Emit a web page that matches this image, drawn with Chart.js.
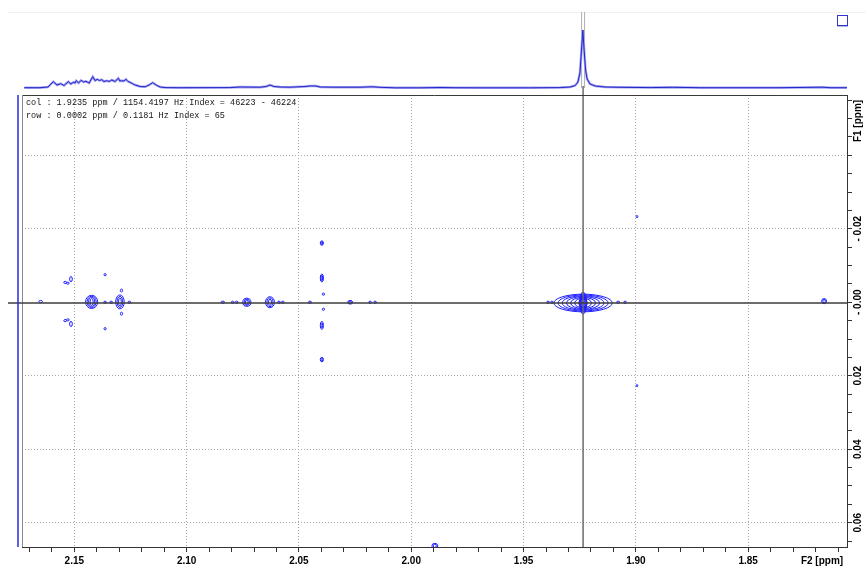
<!DOCTYPE html>
<html><head><meta charset="utf-8">
<script src="https://cdn.jsdelivr.net/npm/chart.js@4.4.0/dist/chart.umd.min.js"></script>
<style>
html,body{margin:0;padding:0;background:#fff;}
#wrap{position:relative;width:866px;height:568px;}
#wrap canvas{position:absolute;left:0;top:0;}
</style></head><body>
<div id="wrap">
<canvas id="main" width="866" height="568" style="width:866px;height:568px"></canvas>
<canvas id="proj" width="866" height="95" style="width:866px;height:95px"></canvas>
</div>
<script>
// ---------- axis ranges and ticks ----------
const xMin = 1.806, xMax = 2.1733;          // F2 [ppm], reversed
const yMin = -0.0564, yMax = 0.0666;        // F1 [ppm], reversed
const xMajorTicks = [2.15, 2.10, 2.05, 2.00, 1.95, 1.90, 1.85];
const xMajorLabels = ['2.15', '2.10', '2.05', '2.00', '1.95', '1.90', '1.85'];
const xMinorStep = 0.01;
const yLabelTicks = [-0.02, 0.00, 0.02, 0.04, 0.06];
const yLabelTexts = ['- 0.02', '- 0.00', '0.02', '0.04', '0.06'];
const yGridTicks = [-0.04, -0.02, 0.02, 0.04, 0.06];
const yMinorStep = 0.005;
const xAxisTitle = 'F2 [ppm]';
const yAxisTitle = 'F1 [ppm]';

// ---------- cursor ----------
const cursorF2 = 1.9235, cursorF1 = 0.0002;
const infoLines = [
  'col : 1.9235 ppm / 1154.4197 Hz Index = 46223 - 46224',
  'row : 0.0002 ppm / 0.1181 Hz Index = 65'
];

// ---------- 2D contour peaks ----------
const peakF2 = [2.1650, 2.1541, 2.1529, 2.1515, 2.1541, 2.1529, 2.1515, 2.1423, 2.1363, 2.1363,
  2.1363, 2.1336, 2.1297, 2.1290, 2.1290, 2.1255, 2.0839, 2.0795, 2.0777, 2.0732,
  2.0629, 2.0589, 2.0572, 2.0451, 2.0398, 2.0398, 2.0391, 2.0391, 2.0398, 2.0398,
  2.0272, 2.0183, 2.0161, 1.9235, 1.9235, 1.9391, 1.9374, 1.9079, 1.9048, 1.8995,
  1.8995, 1.8162, 1.9895];
const peakF1 = [-0.0002, -0.0054, -0.0052, -0.0063, 0.0050, 0.0048, 0.0059, -0.0001, -0.0075, 0.0072,
  0.0000, 0.0000, -0.0001, -0.0032, 0.0031, 0.0000, 0.0000, 0.0000, 0.0000, 0.0000,
  0.0000, 0.0000, 0.0000, 0.0000, -0.0161, -0.0066, -0.0022, 0.0019, 0.0063, 0.0156,
  0.0000, 0.0000, 0.0000, 0.0002, 0.0002, 0.0000, 0.0000, 0.0000, 0.0000, -0.0233,
  0.0227, -0.0003, 0.0663];
const peakHalfW = [0.0008, 0.0006, 0.0006, 0.0006, 0.0006, 0.0006, 0.0006, 0.0027, 0.0005, 0.0005,
  0.0006, 0.0006, 0.0019, 0.0005, 0.0005, 0.0006, 0.0008, 0.0006, 0.0006, 0.0018,
  0.0020, 0.0006, 0.0006, 0.0007, 0.0007, 0.0007, 0.0005, 0.0005, 0.0007, 0.0007,
  0.0011, 0.0006, 0.0006, 0.0130, 0.0016, 0.0006, 0.0006, 0.0007, 0.0006, 0.0004,
  0.0004, 0.0011, 0.0013];
const peakHalfH = [0.0003, 0.0003, 0.0003, 0.0007, 0.0003, 0.0003, 0.0007, 0.0018, 0.0003, 0.0003,
  0.0003, 0.0003, 0.0019, 0.0004, 0.0004, 0.0003, 0.0003, 0.0003, 0.0003, 0.0011,
  0.0015, 0.0003, 0.0003, 0.0003, 0.0006, 0.0011, 0.0003, 0.0003, 0.0011, 0.0006,
  0.0005, 0.0003, 0.0003, 0.0024, 0.0030, 0.0003, 0.0003, 0.0003, 0.0003, 0.0003,
  0.0003, 0.0007, 0.0007];
const peakLevels = [1, 1, 1, 1, 1, 1, 1, 4, 1, 1,
  1, 1, 3, 1, 1, 1, 1, 1, 1, 3,
  3, 1, 1, 1, 2, 2, 1, 1, 2, 2,
  2, 1, 1, 7, 4, 1, 1, 1, 1, 1,
  1, 2, 2];

// ---------- F2 projection (top trace) ----------
const projF2 = [2.1723, 2.1653, 2.1617, 2.1594, 2.1577, 2.1561, 2.1546, 2.1527, 2.1515, 2.1504,
  2.1497, 2.1492, 2.1481, 2.1470, 2.1459, 2.1448, 2.1434, 2.1418, 2.1408, 2.1398,
  2.1388, 2.1378, 2.1368, 2.1356, 2.1345, 2.1333, 2.1319, 2.1304, 2.1297, 2.1289,
  2.1279, 2.1270, 2.1261, 2.1252, 2.1238, 2.1229, 2.1207, 2.1185, 2.1167, 2.1151,
  2.1136, 2.1118, 2.1096, 2.1029, 2.0806, 2.0762, 2.0673, 2.0646, 2.0629, 2.0611,
  2.0584, 2.0539, 2.0473, 2.0451, 2.0424, 2.0406, 2.0340, 2.0228, 2.0175, 2.0139,
  2.0072, 1.9961, 1.9872, 1.9805, 1.9693, 1.9470, 1.9337, 1.9292, 1.9270, 1.9258,
  1.9249, 1.9242, 1.9236, 1.9231, 1.9224, 1.9217, 1.9204, 1.9181, 1.9137, 1.9070,
  1.8936, 1.8838, 1.8714, 1.8358, 1.8167, 1.8136, 1.8060];
const projInt = [0.3, 0.3, 1, 6.3, 3, 4.3, 2.5, 6.3, 4, 5.7,
  5, 7.3, 5, 7.7, 6, 6.7, 5, 11.3, 7.5, 8.7,
  7.5, 8.3, 6.5, 7.3, 6.5, 8, 6.5, 9.7, 7, 7.3,
  7, 8.7, 6.5, 5.7, 4, 3, 1.5, 1.2, 3, 5.3,
  3, 1, 0.4, 0.3, 0.4, 1, 0.8, 1.5, 3, 1.5,
  1, 0.8, 1.5, 2, 2, 1, 0.8, 0.8, 1.2, 0.7,
  0.2, 0.2, 0.5, 0.3, 0.2, 0.2, 0.4, 1, 2.5, 6,
  15, 38, 58, 40, 18, 9, 4, 2, 1, 0.7,
  0.4, 0.7, 0.3, 0.3, 0.8, 0.3, 0.3];

// ---------- helpers ----------
const near = (a, b) => Math.abs(a - b) < 1e-6;
const xAllTicks = [];
for (let k = Math.ceil(xMin / xMinorStep - 1e-6); k * xMinorStep <= xMax + 1e-9; k++) xAllTicks.push(+(k * xMinorStep).toFixed(4));
const yAllTicks = [];
for (let k = Math.ceil(yMin / yMinorStep - 1e-6); k * yMinorStep <= yMax + 1e-9; k++) yAllTicks.push(+(k * yMinorStep).toFixed(4));
const tickFont = {family: 'Liberation Sans, Arial, sans-serif', size: 10, weight: 'bold'};
const fontStr = 'bold 10px "Liberation Sans", Arial, sans-serif';

const mainPlugin = {
  id: 'nmr2d',
  beforeDatasetsDraw(chart) {
    const {ctx, chartArea: a, scales: {x, y}} = chart;
    ctx.save();
    ctx.beginPath();
    ctx.rect(a.left, a.top, a.right - a.left, a.bottom - a.top);
    ctx.clip();
    // contours
    ctx.strokeStyle = '#1c1cff';
    ctx.lineWidth = 1;
    for (let i = 0; i < peakF2.length; i++) {
      const cx = x.getPixelForValue(peakF2[i]);
      const cy = y.getPixelForValue(peakF1[i]);
      const rx = Math.abs(x.getPixelForValue(peakF2[i] + peakHalfW[i]) - cx);
      const ry = Math.abs(y.getPixelForValue(peakF1[i] + peakHalfH[i]) - cy);
      const n = peakLevels[i];
      for (let k = n; k >= 1; k--) {
        const f = k / n;
        const fy = n > 1 ? 0.35 + 0.65 * f : 1;
        ctx.beginPath();
        ctx.ellipse(cx, cy, Math.max(rx * f, 0.7), Math.max(ry * fy, 0.7), 0, 0, Math.PI * 2);
        ctx.stroke();
      }
    }
    // vertical cursor
    const px = x.getPixelForValue(cursorF2);
    ctx.strokeStyle = '#6a6a6a';
    ctx.lineWidth = 1.5;
    ctx.beginPath();
    ctx.moveTo(px, a.top);
    ctx.lineTo(px, a.bottom);
    ctx.stroke();
    ctx.restore();
  },
  afterDraw(chart) {
    const {ctx, chartArea: a, scales: {x, y}} = chart;
    ctx.save();
    // frame top / left
    ctx.strokeStyle = '#3a3a3a';
    ctx.lineWidth = 1;
    ctx.beginPath();
    ctx.moveTo(a.left, a.top + 0.5);
    ctx.lineTo(a.right, a.top + 0.5);
    ctx.stroke();
    ctx.strokeStyle = '#8a8a8a';
    ctx.beginPath();
    ctx.moveTo(a.left + 0.5, a.top);
    ctx.lineTo(a.left + 0.5, a.bottom);
    ctx.stroke();
    // horizontal cursor (extends left past the frame)
    const py = y.getPixelForValue(cursorF1);
    ctx.strokeStyle = '#3c3c3c';
    ctx.lineWidth = 1.5;
    ctx.beginPath();
    ctx.moveTo(8, py);
    ctx.lineTo(a.right, py);
    ctx.stroke();
    // F1 projection (flat trace at left)
    ctx.strokeStyle = '#2a2ae0';
    ctx.lineWidth = 1.5;
    ctx.beginPath();
    ctx.moveTo(18, a.top);
    ctx.lineTo(18, a.bottom);
    ctx.stroke();
    // info text
    ctx.fillStyle = '#151515';
    ctx.font = '8.5px "Liberation Mono", "Courier New", monospace';
    ctx.textAlign = 'left';
    ctx.textBaseline = 'middle';
    infoLines.forEach((t, i) => ctx.fillText(t, a.left + 4, a.top + 8 + i * 13));
    // F2 title
    ctx.fillStyle = '#000';
    ctx.font = fontStr;
    ctx.textAlign = 'center';
    ctx.fillText(xAxisTitle, 822, x.bottom - 7);
    // F1 labels, rotated
    const lx = a.right + 11;
    const drawRot = (txt, yy) => {
      ctx.save();
      ctx.translate(lx, yy);
      ctx.rotate(-Math.PI / 2);
      ctx.textAlign = 'center';
      ctx.textBaseline = 'middle';
      ctx.fillText(txt, 0, 0);
      ctx.restore();
    };
    yLabelTicks.forEach((v, i) => drawRot(yLabelTexts[i], y.getPixelForValue(v)));
    drawRot(yAxisTitle, a.top + 26);
    ctx.restore();
  }
};

new Chart(document.getElementById('main'), {
  type: 'scatter',
  data: {datasets: [{data: peakF2.map((v, i) => ({x: v, y: peakF1[i]})), pointRadius: 0, pointHoverRadius: 0}]},
  options: {
    responsive: false, animation: false, devicePixelRatio: 1,
    layout: {padding: {left: 22, top: 95, right: 0, bottom: 0}},
    plugins: {legend: {display: false}, tooltip: {enabled: false}},
    events: [],
    scales: {
      x: {
        type: 'linear', position: 'bottom', reverse: true, min: xMin, max: xMax,
        afterBuildTicks: s => { s.ticks = xAllTicks.map(v => ({value: v})); },
        afterFit: s => { s.height = 21; },
        ticks: {
          autoSkip: false, maxRotation: 0, minRotation: 0, padding: 3, color: '#000', font: tickFont,
          callback: v => { const i = xMajorTicks.findIndex(m => near(m, v)); return i >= 0 ? xMajorLabels[i] : ''; }
        },
        grid: {
          color: c => (c.tick && xMajorTicks.some(m => near(m, c.tick.value))) ? '#a8a8a8' : 'rgba(0,0,0,0)',
          lineWidth: 1, tickLength: 5, tickColor: '#333', tickWidth: 1
        },
        border: {display: true, color: '#333', width: 1, dash: [1, 2]}
      },
      y: {
        type: 'linear', position: 'right', reverse: true, min: yMin, max: yMax,
        afterBuildTicks: s => { s.ticks = yAllTicks.map(v => ({value: v})); },
        afterFit: s => { s.width = 19; },
        ticks: {display: false},
        grid: {
          color: c => (c.tick && yGridTicks.some(m => near(m, c.tick.value))) ? '#a8a8a8' : 'rgba(0,0,0,0)',
          lineWidth: 1, tickLength: 5, tickColor: '#333', tickWidth: 1
        },
        border: {display: true, color: '#333', width: 1, dash: [1, 2]}
      }
    }
  },
  plugins: [mainPlugin]
});

// ---------- top projection chart ----------
const projPlugin = {
  id: 'proj',
  beforeDatasetsDraw(chart) {
    const {ctx, scales: {x}} = chart;
    const px = x.getPixelForValue(cursorF2);
    ctx.save();
    ctx.strokeStyle = '#f0f0f0';
    ctx.lineWidth = 1;
    ctx.beginPath(); ctx.moveTo(8, 12.5); ctx.lineTo(866, 12.5); ctx.stroke();
    ctx.strokeStyle = '#b0b0b0';
    ctx.beginPath();
    ctx.moveTo(px - 1.5, 12); ctx.lineTo(px - 1.5, 88);
    ctx.moveTo(px + 1.5, 12); ctx.lineTo(px + 1.5, 88);
    ctx.stroke();
    ctx.strokeStyle = '#6a6a6a';
    ctx.lineWidth = 1.5;
    ctx.beginPath(); ctx.moveTo(px, 86); ctx.lineTo(px, 95); ctx.stroke();
    ctx.restore();
  },
  afterDraw(chart) {
    const ctx = chart.ctx;
    ctx.save();
    ctx.strokeStyle = '#3434d0';
    ctx.lineWidth = 1;
    ctx.strokeRect(837.5, 15.5, 10, 10);
    ctx.strokeStyle = '#b4b4ee';
    ctx.beginPath(); ctx.moveTo(837, 26.5); ctx.lineTo(848, 26.5); ctx.stroke();
    ctx.restore();
  }
};

const projPts = projF2.map((v, i) => ({x: v, y: projInt[i]}));
new Chart(document.getElementById('proj'), {
  type: 'line',
  data: {datasets: [
    {data: projPts, borderColor: '#2424c8', borderWidth: 1, pointRadius: 0, tension: 0, fill: false, order: 0},
    {data: projPts, borderColor: '#a6a6f2', borderWidth: 2.5, pointRadius: 0, tension: 0, fill: false, order: 1}
  ]},
  options: {
    responsive: false, animation: false, devicePixelRatio: 1, events: [],
    layout: {padding: {left: 22, right: 19, top: 10, bottom: 5}},
    plugins: {legend: {display: false}, tooltip: {enabled: false}},
    scales: {
      x: {type: 'linear', reverse: true, min: xMin, max: xMax, display: false},
      y: {type: 'linear', min: -2, max: 78, display: false}
    }
  },
  plugins: [projPlugin]
});
</script>
</body></html>
